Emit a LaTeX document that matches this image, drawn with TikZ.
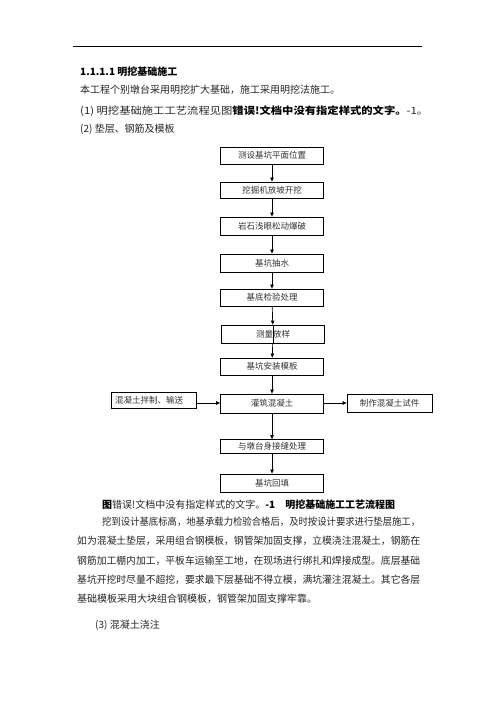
\documentclass[tikz,border=0pt]{standalone}
\usepackage{fontspec}
\setmainfont{Noto Sans CJK SC}
\usetikzlibrary{arrows.meta}
\newcommand{\jl}[2]{\resizebox{#1}{\height}{#2}}
\begin{document}
\begin{tikzpicture}[x=1pt,y=-1pt,
 box/.style={draw,line width=0.8pt,minimum width=103pt,minimum height=17pt,inner sep=0pt,text=black!80,font=\fontsize{8.5}{10}\selectfont},
 arr/.style={-{Triangle[length=4pt,width=3.5pt]},line width=0.7pt},
 txt/.style={anchor=west,inner sep=0pt,text=black!85,font=\fontsize{10}{12}\selectfont},
 btxt/.style={txt,text=black,font=\fontsize{10}{12}\selectfont\bfseries}]
\useasboundingbox[fill=white] (0,0) rectangle (496,702);
\draw[line width=0.8pt] (73,46) -- (422,46);
% header text
\node[btxt] (h) at (80,72) {1.1.1.1 明挖基础施工};
\node[txt] (l1) at (80,90) {本工程个别墩台采用明挖扩大基础，施工采用明挖法施工。};
\node[txt] (l2) at (80,111) {\jl{348pt}{(1) 明挖基础施工工艺流程见图{\bfseries\color{black} 错误!文档中没有指定样式的文字。}-1。}};
\node[txt] (l3) at (80,129) {(2) 垫层、钢筋及模板};
% flowchart
\node[box] (b1) at (272,155.5) {测设基坑平面位置};
\node[box,minimum height=16pt] (b2) at (272,190) {挖掘机放坡开挖};
\node[box,minimum height=18pt] (b3) at (272,226) {岩石浅眼松动爆破};
\node[box,minimum height=18pt] (b4) at (272,263) {基坑抽水};
\node[box] (b5) at (272,297.5) {基底检验处理};
\node[box,minimum height=18pt] (b6) at (273,334) {测量放样};
\node[box] (b7) at (272,366.5) {基坑安装模板};
\node[box,minimum height=19pt] (b8) at (272,403.5) {灌筑混凝土};
\node[box,minimum height=14pt] (b9) at (272,446.5) {与墩台身接缝处理};
\node[box,minimum height=18pt] (b10) at (272,483) {基坑回填};
\node[box,minimum width=85pt,minimum height=16pt,text width=77pt,align=left,inner xsep=4pt] (lb) at (153.5,400) {混凝土拌制、输送};
\node[box,minimum width=85pt,minimum height=18pt] (rb) at (389.5,403) {制作混凝土试件};
\draw[arr] (b1) -- (b2);
\draw[arr] (b2) -- (b3);
\draw[arr] (b3) -- (b4);
\draw[arr] (b4) -- (b5);
\draw[arr] (b5) -- (b6);
\draw[line width=0.7pt] (b6.north) -- (b6.south);
\draw[arr] (b6) -- (b7);
\draw[arr] (b7) -- (b8);
\draw[arr] (b8) -- (b9);
\draw[arr] (b9) -- (b10);
\draw[arr] ([yshift=-3pt]lb.east) -- ([yshift=-3pt]lb.east -| b8.west);
\draw[arr] (b8.east |- rb.west) -- (rb.west);
% caption and paragraph
\node[txt] (cap) at (102,505) {\jl{293pt}{{\bfseries\color{black} 图}错误!文档中没有指定样式的文字。{\bfseries\color{black} -1\quad 明挖基础施工工艺流程图}}};
\node[txt] (p1) at (102,522) {\jl{318pt}{挖到设计基底标高，地基承载力检验合格后，及时按设计要求进行垫层施工，}};
\node[txt] (p2) at (77,541) {\jl{343pt}{如为混凝土垫层，采用组合钢模板，钢管架加固支撑，立模浇注混凝土，钢筋在}};
\node[txt] (p3) at (77,561) {\jl{343pt}{钢筋加工棚内加工，平板车运输至工地，在现场进行绑扎和焊接成型。底层基础}};
\node[txt] (p4) at (77,580) {\jl{343pt}{基坑开挖时尽量不超挖，要求最下层基础不得立模，满坑灌注混凝土。其它各层}};
\node[txt] (p5) at (77,599) {基础模板采用大块组合钢模板，钢管架加固支撑牢靠。};
\node[txt] (p6) at (95,625) {(3) 混凝土浇注};
\end{tikzpicture}
\end{document}
